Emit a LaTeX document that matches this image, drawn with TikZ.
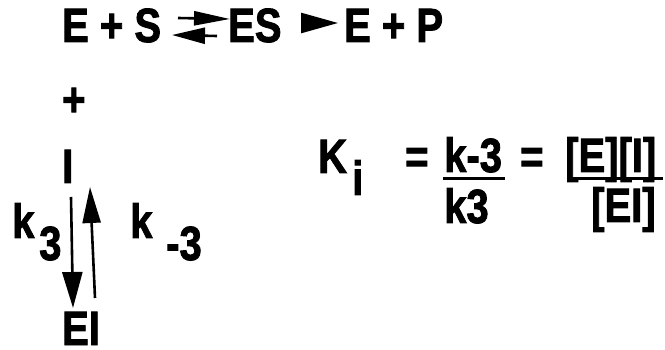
\documentclass[tikz,border=0pt]{standalone}
\usepackage{fontspec}
\usepackage{graphicx}
\setmainfont{Liberation Sans}[BoldFeatures={FakeBold=2}]
\usetikzlibrary{arrows.meta}
\newcommand{\tall}[1]{\scalebox{1}[1.2]{#1}}
\tikzset{
  chem/.style={inner sep=0pt, anchor=base west, font=\fontsize{40}{48}\selectfont\bfseries},
  rxn/.style={line width=2.6pt},
  bar/.style={line width=3pt},
}

\begin{document}
\begin{tikzpicture}[x=1pt,y=-1pt]
  \useasboundingbox (0,0) rectangle (665,350);
  % reaction line
  \node[chem] (es1) at (62,42) {\tall{E + S}};
  \node[chem] (cplx) at (228,42) {\tall{ES}};
  \node[chem] (ep) at (344,42) {\tall{E + P}};
  \coordinate (fwdA) at (178,18);
  \coordinate (fwdB) at (230,19);
  \coordinate (revA) at (217,36);
  \coordinate (revB) at (172,35);
  \coordinate (catA) at (301,23);
  \coordinate (catB) at (338,23);
  \draw[rxn,-{Triangle[length=36pt,width=14pt]}] (fwdA) -- (fwdB);
  \draw[rxn,-{Triangle[length=33pt,width=16pt]}] (revA) -- (revB);
  \draw[rxn,-{Triangle[length=37pt,width=20pt]}] (catA) -- (catB);
  % inhibitor binding
  \node[chem] (plus) at (62,116) {\tall{+}};
  \node[chem] (inh) at (62,183) {\tall{I}};
  \node[chem] (ei) at (62,345) {\tall{EI}};
  \node[chem] (kon) at (12,238) {\tall{k}};
  \node[chem] (kons) at (39,260) {\tall{3}};
  \node[chem] (koff) at (130,238) {\tall{k}};
  \node[chem] (koffs) at (166,260) {\tall{-3}};
  \coordinate (dnA) at (71,197);
  \coordinate (dnB) at (73,308);
  \coordinate (upA) at (95,298);
  \coordinate (upB) at (90,187);
  \draw[rxn,-{Triangle[length=36pt,width=20pt]}] (dnA) -- (dnB);
  \draw[rxn,-{Triangle[length=36pt,width=18pt]}] (upA) -- (upB);
  % dissociation constant
  \node[chem] (kk) at (318,173) {\tall{K}};
  \node[chem] (kis) at (352,195) {\tall{i}};
  \node[chem] (eq1) at (405,173) {\tall{=}};
  \node[chem] (num1) at (444,172) {\tall{k-3}};
  \node[chem] (den1) at (444,223) {\tall{k3}};
  \node[chem] (eq2) at (520,173) {\tall{=}};
  \node[chem] (num2) at (565,172) {\tall{[E][I]}};
  \node[chem] (den2) at (591,222) {\tall{[EI]}};
  \draw[bar] (443,178.5) -- (505,178.5);
  \draw[bar] (567,178.5) -- (663,178.5);
\end{tikzpicture}
\end{document}
